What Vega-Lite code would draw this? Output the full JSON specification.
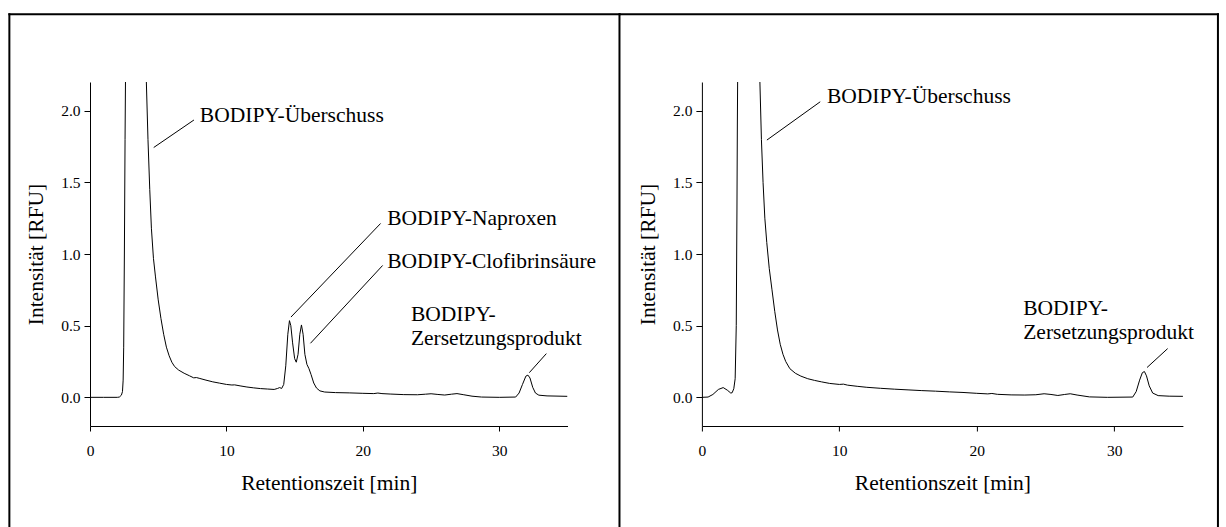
{
  "$schema": "https://vega.github.io/schema/vega-lite/v6.json",
  "background": "white",
  "padding": {"left": 7, "top": 12, "right": 8, "bottom": 0},
  "bounds": "flush",
  "spacing": 133.9,
  "config": {
    "font": "'Liberation Serif', 'Times New Roman', serif",
    "view": {"stroke": null},
    "axis": {
      "grid": false,
      "domainColor": "black",
      "domainWidth": 1,
      "tickColor": "black",
      "tickWidth": 1,
      "labelColor": "black",
      "labelFont": "'Liberation Serif', 'Times New Roman', serif",
      "labelFontSize": 15.5,
      "titleFont": "'Liberation Serif', 'Times New Roman', serif",
      "titleFontSize": 21.5,
      "titleFontWeight": "normal",
      "titleColor": "black"
    },
    "axisX": {"tickSize": 5, "labelPadding": 12.5, "titlePadding": 13, "labelFlush": false},
    "axisY": {"tickSize": 6, "labelPadding": 4, "titlePadding": 13},
    "text": {"font": "'Liberation Serif', 'Times New Roman', serif", "fontSize": 21.5, "color": "black"},
    "rule": {"color": "black", "strokeWidth": 1}
  },
  "datasets": {
    "trace_a": [
      {"t": 0, "v": 0}, {"t": 1, "v": 0}, {"t": 2, "v": 0}, {"t": 2.15, "v": 0.002}, {"t": 2.3, "v": 0.015},
      {"t": 2.38, "v": 0.04}, {"t": 2.43, "v": 0.12}, {"t": 2.47, "v": 0.35}, {"t": 2.52, "v": 1.0},
      {"t": 2.57, "v": 1.8}, {"t": 2.6, "v": 2.2}, {"t": 2.63, "v": 2.8}, {"t": 3.3, "v": 10},
      {"t": 4.0, "v": 2.9}, {"t": 4.13, "v": 2.2}, {"t": 4.25, "v": 1.8}, {"t": 4.38, "v": 1.45},
      {"t": 4.5, "v": 1.18}, {"t": 4.65, "v": 0.97}, {"t": 4.8, "v": 0.84}, {"t": 5.0, "v": 0.68},
      {"t": 5.2, "v": 0.55}, {"t": 5.4, "v": 0.44}, {"t": 5.6, "v": 0.35}, {"t": 5.8, "v": 0.29},
      {"t": 6.0, "v": 0.245}, {"t": 6.2, "v": 0.215}, {"t": 6.5, "v": 0.19}, {"t": 6.9, "v": 0.168},
      {"t": 7.3, "v": 0.15}, {"t": 7.6, "v": 0.136}, {"t": 7.8, "v": 0.138}, {"t": 8.0, "v": 0.133},
      {"t": 8.5, "v": 0.12}, {"t": 9.0, "v": 0.108}, {"t": 9.5, "v": 0.099}, {"t": 10.0, "v": 0.09},
      {"t": 10.4, "v": 0.086}, {"t": 10.6, "v": 0.087}, {"t": 11.0, "v": 0.08}, {"t": 11.5, "v": 0.072},
      {"t": 12.0, "v": 0.066}, {"t": 12.5, "v": 0.061}, {"t": 13.0, "v": 0.058}, {"t": 13.5, "v": 0.055},
      {"t": 13.75, "v": 0.062}, {"t": 13.9, "v": 0.068}, {"t": 14.05, "v": 0.062}, {"t": 14.2, "v": 0.09},
      {"t": 14.35, "v": 0.22}, {"t": 14.5, "v": 0.44}, {"t": 14.62, "v": 0.535}, {"t": 14.72, "v": 0.5},
      {"t": 14.85, "v": 0.38}, {"t": 15.0, "v": 0.27}, {"t": 15.12, "v": 0.245}, {"t": 15.25, "v": 0.3},
      {"t": 15.38, "v": 0.44}, {"t": 15.5, "v": 0.505}, {"t": 15.62, "v": 0.44}, {"t": 15.75, "v": 0.3},
      {"t": 15.9, "v": 0.23}, {"t": 16.05, "v": 0.2}, {"t": 16.2, "v": 0.16}, {"t": 16.4, "v": 0.1},
      {"t": 16.6, "v": 0.065}, {"t": 16.85, "v": 0.045}, {"t": 17.2, "v": 0.037}, {"t": 18, "v": 0.033},
      {"t": 19, "v": 0.031}, {"t": 20, "v": 0.028}, {"t": 20.8, "v": 0.026}, {"t": 21.1, "v": 0.03},
      {"t": 21.4, "v": 0.026}, {"t": 22, "v": 0.023}, {"t": 23, "v": 0.019}, {"t": 24, "v": 0.018},
      {"t": 24.6, "v": 0.022}, {"t": 25, "v": 0.025}, {"t": 25.5, "v": 0.02}, {"t": 26, "v": 0.016},
      {"t": 26.5, "v": 0.022}, {"t": 26.9, "v": 0.026}, {"t": 27.4, "v": 0.018}, {"t": 28, "v": 0.008},
      {"t": 28.7, "v": 0.002}, {"t": 30, "v": 0.0}, {"t": 31.2, "v": 0.002}, {"t": 31.45, "v": 0.03},
      {"t": 31.7, "v": 0.09}, {"t": 31.95, "v": 0.148}, {"t": 32.1, "v": 0.155}, {"t": 32.25, "v": 0.135},
      {"t": 32.45, "v": 0.07}, {"t": 32.65, "v": 0.03}, {"t": 32.9, "v": 0.015}, {"t": 33.5, "v": 0.01},
      {"t": 35, "v": 0.007}
    ],
    "trace_b": [
      {"t": 0, "v": 0}, {"t": 0.45, "v": 0.002}, {"t": 0.8, "v": 0.02}, {"t": 1.2, "v": 0.055},
      {"t": 1.55, "v": 0.068}, {"t": 1.85, "v": 0.05}, {"t": 2.1, "v": 0.03}, {"t": 2.2, "v": 0.032},
      {"t": 2.32, "v": 0.06}, {"t": 2.42, "v": 0.13}, {"t": 2.5, "v": 0.5}, {"t": 2.55, "v": 1.3},
      {"t": 2.58, "v": 1.9}, {"t": 2.6, "v": 2.2}, {"t": 2.63, "v": 2.8}, {"t": 3.4, "v": 10},
      {"t": 4.1, "v": 2.9}, {"t": 4.22, "v": 2.2}, {"t": 4.33, "v": 1.8}, {"t": 4.45, "v": 1.5},
      {"t": 4.58, "v": 1.25}, {"t": 4.72, "v": 1.08}, {"t": 4.9, "v": 0.9}, {"t": 5.1, "v": 0.75},
      {"t": 5.3, "v": 0.6}, {"t": 5.5, "v": 0.47}, {"t": 5.7, "v": 0.37}, {"t": 5.9, "v": 0.3},
      {"t": 6.1, "v": 0.25}, {"t": 6.4, "v": 0.2}, {"t": 6.8, "v": 0.168}, {"t": 7.2, "v": 0.148},
      {"t": 7.7, "v": 0.13}, {"t": 8.2, "v": 0.118}, {"t": 8.7, "v": 0.108}, {"t": 9.3, "v": 0.097},
      {"t": 10.0, "v": 0.09}, {"t": 10.3, "v": 0.092}, {"t": 10.6, "v": 0.085}, {"t": 11.3, "v": 0.077},
      {"t": 12.0, "v": 0.07}, {"t": 13.0, "v": 0.063}, {"t": 14.0, "v": 0.057}, {"t": 15.0, "v": 0.052},
      {"t": 16.0, "v": 0.047}, {"t": 17.0, "v": 0.043}, {"t": 18.0, "v": 0.038}, {"t": 19.0, "v": 0.034},
      {"t": 20.0, "v": 0.028}, {"t": 20.8, "v": 0.024}, {"t": 21.1, "v": 0.027}, {"t": 21.5, "v": 0.021},
      {"t": 22.5, "v": 0.017}, {"t": 23.5, "v": 0.016}, {"t": 24.3, "v": 0.018}, {"t": 24.9, "v": 0.025},
      {"t": 25.4, "v": 0.02}, {"t": 25.9, "v": 0.013}, {"t": 26.4, "v": 0.02}, {"t": 26.8, "v": 0.025},
      {"t": 27.3, "v": 0.016}, {"t": 28.2, "v": 0.003}, {"t": 29.5, "v": 0.0}, {"t": 31.35, "v": 0.002},
      {"t": 31.6, "v": 0.04}, {"t": 31.85, "v": 0.12}, {"t": 32.05, "v": 0.172}, {"t": 32.2, "v": 0.18},
      {"t": 32.35, "v": 0.15}, {"t": 32.55, "v": 0.08}, {"t": 32.8, "v": 0.03}, {"t": 33.2, "v": 0.012},
      {"t": 34, "v": 0.008}, {"t": 35, "v": 0.007}
    ],
    "notes_a": [
      {"label": "BODIPY-Überschuss", "t": 8.05, "v": 1.92},
      {"label": "BODIPY-Naproxen", "t": 21.78, "v": 1.2},
      {"label": "BODIPY-Clofibrinsäure", "t": 21.78, "v": 0.905},
      {"label": "BODIPY-\nZersetzungsprodukt", "t": 23.52, "v": 0.535}
    ],
    "leaders_a": [
      {"t": 7.62, "v": 1.935, "t2": 4.67, "v2": 1.743},
      {"t": 21.3, "v": 1.213, "t2": 14.73, "v2": 0.56},
      {"t": 21.45, "v": 0.92, "t2": 16.16, "v2": 0.377},
      {"t": 33.45, "v": 0.305, "t2": 32.2, "v2": 0.172}
    ],
    "notes_b": [
      {"label": "BODIPY-Überschuss", "t": 9.1, "v": 2.055},
      {"label": "BODIPY-\nZersetzungsprodukt", "t": 23.38, "v": 0.572}
    ],
    "leaders_b": [
      {"t": 8.61, "v": 2.062, "t2": 4.73, "v2": 1.795},
      {"t": 33.89, "v": 0.34, "t2": 32.39, "v2": 0.208}
    ]
  },
  "hconcat": [
    {
      "width": 477.5,
      "height": 344,
      "layer": [
        {
          "data": {"values": [{}]},
          "mark": {"type": "rule", "strokeWidth": 2, "strokeCap": "square"},
          "encoding": {
            "x": {"datum": -5.91, "type": "quantitative"},
            "x2": {"datum": 38.81},
            "y": {"datum": 2.672, "type": "quantitative"}
          }
        },
        {
          "data": {"values": [{}]},
          "mark": {"type": "rule", "strokeWidth": 2, "strokeCap": "square"},
          "encoding": {
            "x": {"datum": -5.91, "type": "quantitative"},
            "y": {"datum": 2.672, "type": "quantitative"},
            "y2": {"datum": -0.902}
          }
        },
        {
          "data": {"values": [{}]},
          "mark": {"type": "rule", "strokeWidth": 2, "strokeCap": "square"},
          "encoding": {
            "x": {"datum": 38.81, "type": "quantitative"},
            "y": {"datum": 2.672, "type": "quantitative"},
            "y2": {"datum": -0.902}
          }
        },
        {
          "data": {"name": "trace_a"},
          "mark": {"type": "line", "color": "black", "strokeWidth": 1, "clip": true},
          "encoding": {
            "x": {
              "field": "t", "type": "quantitative",
              "scale": {"domain": [0, 35], "nice": false, "zero": false},
              "axis": {"title": "Retentionszeit [min]", "values": [0, 10, 20, 30], "format": "d"}
            },
            "y": {
              "field": "v", "type": "quantitative",
              "scale": {"domain": [-0.2, 2.2], "nice": false, "zero": false},
              "axis": {"title": "Intensität [RFU]", "values": [0, 0.5, 1, 1.5, 2], "format": ".1f"}
            }
          }
        },
        {
          "data": {"name": "leaders_a"},
          "mark": {"type": "rule"},
          "encoding": {
            "x": {"field": "t", "type": "quantitative"},
            "y": {"field": "v", "type": "quantitative"},
            "x2": {"field": "t2"},
            "y2": {"field": "v2"}
          }
        },
        {
          "data": {"name": "notes_a"},
          "mark": {"type": "text", "align": "left", "baseline": "alphabetic", "lineBreak": "\n", "lineHeight": 24},
          "encoding": {
            "x": {"field": "t", "type": "quantitative"},
            "y": {"field": "v", "type": "quantitative"},
            "text": {"field": "label"}
          }
        }
      ]
    },
    {
      "width": 481,
      "height": 344,
      "layer": [
        {
          "data": {"values": [{}]},
          "mark": {"type": "rule", "strokeWidth": 2, "strokeCap": "square"},
          "encoding": {
            "x": {"datum": -5.97, "type": "quantitative"},
            "x2": {"datum": 37.55},
            "y": {"datum": 2.672, "type": "quantitative"}
          }
        },
        {
          "data": {"values": [{}]},
          "mark": {"type": "rule", "strokeWidth": 2, "strokeCap": "square"},
          "encoding": {
            "x": {"datum": 37.55, "type": "quantitative"},
            "y": {"datum": 2.672, "type": "quantitative"},
            "y2": {"datum": -0.902}
          }
        },
        {
          "data": {"name": "trace_b"},
          "mark": {"type": "line", "color": "black", "strokeWidth": 1, "clip": true},
          "encoding": {
            "x": {
              "field": "t", "type": "quantitative",
              "scale": {"domain": [0, 35], "nice": false, "zero": false},
              "axis": {"title": "Retentionszeit [min]", "values": [0, 10, 20, 30], "format": "d"}
            },
            "y": {
              "field": "v", "type": "quantitative",
              "scale": {"domain": [-0.2, 2.2], "nice": false, "zero": false},
              "axis": {"title": "Intensität [RFU]", "values": [0, 0.5, 1, 1.5, 2], "format": ".1f"}
            }
          }
        },
        {
          "data": {"name": "leaders_b"},
          "mark": {"type": "rule"},
          "encoding": {
            "x": {"field": "t", "type": "quantitative"},
            "y": {"field": "v", "type": "quantitative"},
            "x2": {"field": "t2"},
            "y2": {"field": "v2"}
          }
        },
        {
          "data": {"name": "notes_b"},
          "mark": {"type": "text", "align": "left", "baseline": "alphabetic", "lineBreak": "\n", "lineHeight": 24},
          "encoding": {
            "x": {"field": "t", "type": "quantitative"},
            "y": {"field": "v", "type": "quantitative"},
            "text": {"field": "label"}
          }
        }
      ]
    }
  ]
}
